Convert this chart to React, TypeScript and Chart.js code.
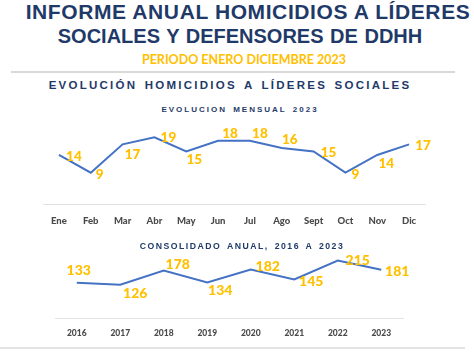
import React, { useEffect, useRef } from "react";
import { Chart, registerables } from "chart.js";

Chart.register(...registerables);

// ---- Data ----
const months = ["Ene", "Feb", "Mar", "Abr", "May", "Jun", "Jul", "Ago", "Sept", "Oct", "Nov", "Dic"];
const monthlyValues = [14, 9, 17, 19, 15, 18, 18, 16, 15, 9, 14, 17];
const years = ["2016", "2017", "2018", "2019", "2020", "2021", "2022", "2023"];
const annualValues = [133, 126, 178, 134, 182, 145, 215, 181];

// label placement relative to each point (layout only)
const monthlyLabelOffsets = [
  [15, 1], [9, 1], [10, 10], [14, 0], [8, 8], [12, -8],
  [10, -8], [8, -9], [15, 1], [10, 1], [9, 8], [14, 1],
];
const annualLabelOffsets = [
  [2, -13], [15, 8], [14, -7], [13, 8], [17, -3], [17, 1], [20, -1], [16, 1],
];

const BLUE_TEXT = "#1f3a68";
const GOLD = "#FFC000";
const LINE = "#4472C4";

const valueLabels = {
  id: "valueLabels",
  afterDatasetsDraw(chart: any, _args: any, opts: any) {
    const meta = chart.getDatasetMeta(0);
    const ctx = chart.ctx;
    const size = opts.size || 14;
    ctx.save();
    ctx.font = `900 ${size}px Lato`;
    ctx.fillStyle = GOLD;
    ctx.textAlign = "center";
    ctx.textBaseline = "alphabetic";
    meta.data.forEach((pt: any, i: number) => {
      const v = chart.data.datasets[0].data[i];
      const off = (opts.offsets && opts.offsets[i]) || [0, 0];
      ctx.fillText(String(v), pt.x + off[0], pt.y + off[1] + size * 0.36);
    });
    ctx.restore();
  },
};

function LineChart(props: {
  labels: string[];
  values: number[];
  max: number;
  offsets: number[][];
  width: number;
  height: number;
  left: number;
  top: number;
  padding: any;
  tickSize: number;
  tickPad: number;
  labelSize: number;
}) {
  const ref = useRef<HTMLCanvasElement>(null);
  useEffect(() => {
    if (!ref.current) return;
    const chart = new Chart(ref.current, {
      type: "line",
      data: {
        labels: props.labels,
        datasets: [
          {
            data: props.values,
            borderColor: LINE,
            borderWidth: 2,
            pointRadius: 0,
            tension: 0,
            fill: false,
          },
        ],
      },
      options: {
        animation: false,
        responsive: false,
        layout: { padding: props.padding },
        plugins: {
          legend: { display: false },
          tooltip: { enabled: false },
          valueLabels: { offsets: props.offsets, size: props.labelSize },
        } as any,
        scales: {
          x: {
            offset: true,
            grid: { display: false, drawTicks: false },
            border: { display: true, color: "#e2e2e2", width: 1 },
            ticks: {
              color: "#4a4a4a",
              padding: props.tickPad,
              font: { family: "Lato", weight: 900 as any, size: props.tickSize },
              maxRotation: 0,
              autoSkip: false,
            },
          },
          y: { display: false, min: 0, max: props.max },
        },
      },
      plugins: [valueLabels],
    });
    return () => chart.destroy();
  }, []);
  return (
    <canvas
      ref={ref}
      width={props.width}
      height={props.height}
      style={{ position: "absolute", left: props.left, top: props.top, width: props.width, height: props.height }}
    />
  );
}

const textBase: React.CSSProperties = {
  position: "absolute",
  whiteSpace: "nowrap",
  lineHeight: 1,
  fontWeight: "bold",
  transform: "translateX(-50%)",
};

export default function App() {
  return (
    <div
      style={{
        position: "absolute",
        left: 0,
        top: 0,
        width: 474,
        height: 354,
        background: "#ffffff",
        overflow: "hidden",
        fontFamily: "'Liberation Sans', Arial, sans-serif",
      }}
    >
      <div style={{ ...textBase, left: 248, top: 1, fontSize: 21, letterSpacing: 0.6, color: BLUE_TEXT }}>
        INFORME ANUAL HOMICIDIOS A LÍDERES
      </div>
      <div style={{ ...textBase, left: 240, top: 25.5, fontSize: 20, letterSpacing: 0, wordSpacing: 1, color: BLUE_TEXT }}>
        SOCIALES Y DEFENSORES DE DDHH
      </div>
      <div style={{ ...textBase, left: 244, top: 54, fontSize: 12.5, fontFamily: "Lato", color: GOLD }}>
        PERIODO ENERO DICIEMBRE 2023
      </div>
      <div style={{ position: "absolute", left: 11, top: 71, width: 444, height: 1.5, background: "#d9d9d9" }} />
      <div style={{ ...textBase, left: 230, top: 79.6, fontSize: 11.5, letterSpacing: 2.25, wordSpacing: 2, color: BLUE_TEXT }}>
        EVOLUCIÓN HOMICIDIOS A LÍDERES SOCIALES
      </div>
      <div style={{ ...textBase, left: 240, top: 105.6, fontSize: 8, letterSpacing: 2, wordSpacing: 2, color: BLUE_TEXT }}>
        EVOLUCION MENSUAL 2023
      </div>

      <LineChart
        labels={months}
        values={monthlyValues}
        max={25}
        offsets={monthlyLabelOffsets}
        left={30}
        top={100}
        width={420}
        height={142}
        padding={{ left: 13, right: 25, top: 16, bottom: 4 }}
        tickSize={9.5}
        tickPad={11}
        labelSize={13.5}
      />

      <div style={{ ...textBase, left: 242, top: 241.5, fontSize: 8.7, letterSpacing: 1.5, wordSpacing: 2, color: BLUE_TEXT }}>
        CONSOLIDADO ANUAL, 2016 A 2023
      </div>

      <LineChart
        labels={years}
        values={annualValues}
        max={250}
        offsets={annualLabelOffsets}
        left={40}
        top={245}
        width={390}
        height={104}
        padding={{ left: 15, right: 27, top: 6, bottom: 2 }}
        tickSize={8.5}
        tickPad={9}
        labelSize={14}
      />

      <div style={{ position: "absolute", left: 0, top: 347, width: 465, height: 2, background: "#e3e3e3" }} />
    </div>
  );
}
